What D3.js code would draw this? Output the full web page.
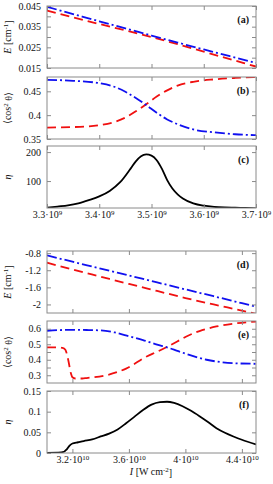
<!DOCTYPE html>
<html>
<head>
<meta charset="utf-8">
<script src="https://cdn.jsdelivr.net/npm/d3@7"></script>
<style>
  body { margin: 0; background: #fff; }
  svg text { font-family: "Liberation Serif", "DejaVu Serif", serif; fill: #111; }
</style>
</head>
<body>
<svg width="273" height="484" font-family="Liberation Serif, serif"></svg>
<script>
// upper block, intensity in units of 1e9 W cm^-2
var xA = [3.30, 3.35, 3.40, 3.45, 3.50, 3.55, 3.60, 3.65, 3.70];
var eBlueA = [0.0446, 0.0411, 0.0376, 0.0342, 0.0307, 0.0273, 0.0240, 0.0207, 0.0175];
var eRedA = [0.0428, 0.0395, 0.0363, 0.0332, 0.0300, 0.0265, 0.0229, 0.0193, 0.0157];

var xB = [3.30, 3.35, 3.40, 3.43, 3.45, 3.47, 3.49, 3.51, 3.53, 3.55, 3.58, 3.62, 3.66, 3.70];
var cosBlueB = [0.474, 0.472, 0.467, 0.459, 0.449, 0.436, 0.421, 0.405, 0.391, 0.381, 0.370, 0.364, 0.360, 0.358];
var cosRedB = [0.374, 0.375, 0.379, 0.386, 0.395, 0.408, 0.423, 0.439, 0.452, 0.462, 0.470, 0.475, 0.478, 0.480];

var xC = [3.30, 3.32, 3.34, 3.36, 3.38, 3.40, 3.42, 3.44, 3.46, 3.47, 3.48, 3.49, 3.50, 3.51, 3.52, 3.53, 3.54, 3.55, 3.56, 3.58, 3.60, 3.62, 3.64, 3.66, 3.68, 3.70];
var etaC = [8, 12, 16, 23, 34, 47, 66, 96, 143, 168, 186, 192, 188, 172, 142, 103, 74, 54, 40, 23, 15, 11, 9, 8, 7, 6];

// lower block, intensity in units of 1e10 W cm^-2
var xD = [3.02, 3.2, 3.4, 3.6, 3.8, 4.0, 4.2, 4.4, 4.5];
var eBlueD = [-0.854, -1.0, -1.161, -1.323, -1.485, -1.647, -1.808, -1.970, -2.051];
var eRedD = [-1.024, -1.18, -1.35, -1.52, -1.685, -1.85, -2.0, -2.145, -2.22];

var xEBlue = [3.02, 3.1, 3.2, 3.3, 3.4, 3.5, 3.6, 3.7, 3.8, 3.87, 3.95, 4.05, 4.15, 4.25, 4.35, 4.5];
var cosBlueE = [0.587, 0.591, 0.593, 0.592, 0.589, 0.576, 0.552, 0.527, 0.498, 0.480, 0.455, 0.425, 0.400, 0.385, 0.377, 0.374];
var xERed = [3.02, 3.10, 3.13, 3.15, 3.17, 3.19, 3.20, 3.22, 3.27, 3.30, 3.44, 3.58, 3.73, 3.80, 3.876, 3.95, 4.0, 4.1, 4.22, 4.34, 4.5];
var cosRedE = [0.480, 0.480, 0.477, 0.465, 0.400, 0.310, 0.287, 0.279, 0.279, 0.282, 0.300, 0.343, 0.423, 0.452, 0.486, 0.522, 0.547, 0.585, 0.615, 0.633, 0.646];

var xF = [3.02, 3.10, 3.14, 3.16, 3.18, 3.20, 3.24, 3.28, 3.34, 3.40, 3.46, 3.52, 3.58, 3.64, 3.70, 3.76, 3.82, 3.87, 3.92, 3.98, 4.04, 4.10, 4.16, 4.22, 4.28, 4.34, 4.40, 4.5];
var etaF = [0.0005, 0.001, 0.003, 0.009, 0.018, 0.023, 0.026, 0.029, 0.033, 0.040, 0.047, 0.057, 0.072, 0.088, 0.104, 0.117, 0.123, 0.124, 0.121, 0.113, 0.102, 0.089, 0.075, 0.060, 0.049, 0.040, 0.032, 0.021];

// ticks
var xTicksTop = [3.3, 3.4, 3.5, 3.6, 3.7];
var xTickLabelsTop = ['3.3', '3.4', '3.5', '3.6', '3.7'];
var xTicksBot = [3.2, 3.6, 4.0, 4.4];
var xTickLabelsBot = ['3.2', '3.6', '4', '4.4'];

var yTicksA = [0.015, 0.02, 0.025, 0.03, 0.035, 0.04, 0.045];
var yLabelsA = ['0.015', '', '0.025', '', '0.035', '', '0.045'];
var yTicksB = [0.35, 0.4, 0.45];
var yLabelsB = ['0.35', '0.4', '0.45'];
var yTicksC = [100, 200];
var yLabelsC = ['100', '200'];
var yTicksD = [-2, -1.6, -1.2, -0.8];
var yLabelsD = ['-2', '-1.6', '-1.2', '-0.8'];
var yTicksE = [0.3, 0.35, 0.4, 0.45, 0.5, 0.55, 0.6];
var yLabelsE = ['0.3', '', '0.4', '', '0.5', '', '0.6'];
var yTicksF = [0, 0.05, 0.1, 0.15];
var yLabelsF = ['0', '0.05', '0.1', '0.15'];

var svg = d3.select('svg');
var left = 47, right = 256, ph = 62;
var frameColor = '#8a8a8a';
var serif = '"Liberation Serif", "DejaVu Serif", serif';

var xTop = d3.scaleLinear().domain([3.3, 3.7]).range([left, right]);
var xBot = d3.scaleLinear().domain([3.02, 4.5]).range([left, right]);

var styles = {
  red: { stroke: '#f01010', dash: '9,5' },
  blue: { stroke: '#1010f0', dash: '10,3,2,3' },
  black: { stroke: '#000', dash: null }
};

var clipId = 0;

function panel(o) {
  var y = d3.scaleLinear().domain(o.yDom).range([o.top + ph, o.top]);
  var g = svg.append('g');
  var id = 'clip' + (clipId++);
  svg.append('clipPath').attr('id', id)
    .append('rect').attr('x', left).attr('y', o.top).attr('width', right - left).attr('height', ph);

  // series
  o.series.forEach(function(s) {
    var pts = s.x.map(function(v, i) { return [v, s.y[i]]; });
    var line = d3.line()
      .x(function(d) { return o.x(d[0]); })
      .y(function(d) { return y(d[1]); })
      .curve(d3.curveMonotoneX);
    g.append('path')
      .attr('d', line(pts))
      .attr('clip-path', 'url(#' + id + ')')
      .attr('fill', 'none')
      .attr('stroke', styles[s.style].stroke)
      .attr('stroke-width', 1.8)
      .attr('stroke-dasharray', styles[s.style].dash);
  });

  // frame
  g.append('rect')
    .attr('x', left).attr('y', o.top).attr('width', right - left).attr('height', ph)
    .attr('fill', 'none').attr('stroke', frameColor).attr('stroke-width', 1);

  // y axes, ticks pointing inward
  var yl = g.append('g').attr('transform', 'translate(' + left + ',0)')
    .call(d3.axisLeft(y).tickValues(o.yTicks).tickSize(-4).tickPadding(6)
      .tickFormat(function(d, i) { return o.yLabels[i]; }));
  var yr = g.append('g').attr('transform', 'translate(' + right + ',0)')
    .call(d3.axisRight(y).tickValues(o.yTicks).tickSize(-4).tickFormat(''));
  [yl, yr].forEach(function(a) {
    a.attr('font-family', serif);
    a.select('.domain').remove();
    a.selectAll('line').attr('stroke', frameColor);
  });
  yl.selectAll('text').attr('font-size', 10).attr('fill', '#111');

  // x ticks top and bottom
  var xb = g.append('g').attr('transform', 'translate(0,' + (o.top + ph) + ')')
    .call(d3.axisBottom(o.x).tickValues(o.xTicks).tickSize(-4).tickPadding(3).tickFormat(''));
  var xt = g.append('g').attr('transform', 'translate(0,' + o.top + ')')
    .call(d3.axisTop(o.x).tickValues(o.xTicks).tickSize(-4).tickFormat(''));
  [xb, xt].forEach(function(a) {
    a.attr('font-family', serif);
    a.select('.domain').remove();
    a.selectAll('line').attr('stroke', frameColor);
  });

  if (o.xLabels) {
    xb.selectAll('.tick text').each(function(d, i) {
      var t = d3.select(this).attr('font-size', 10).attr('fill', '#111');
      t.append('tspan').text(o.xLabels[i] + '\u00b710');
      t.append('tspan').attr('dy', '-0.45em').attr('font-size', 7).text(o.exp);
    });
  }

  // panel tag
  g.append('text')
    .attr('x', 249).attr('y', o.top + 17)
    .attr('text-anchor', 'end')
    .attr('font-size', 10).attr('font-weight', 'bold')
    .text(o.tag);

  // y title, rotated
  var yt = g.append('text')
    .attr('transform', 'translate(11,' + (o.top + ph / 2) + ') rotate(-90)')
    .attr('text-anchor', 'middle')
    .attr('font-size', 10);
  o.yTitle(yt);
}

function titleE(t) {
  t.append('tspan').attr('font-style', 'italic').text('E');
  t.append('tspan').text(' [cm');
  t.append('tspan').attr('dy', '-0.45em').attr('font-size', 7).text('-1');
  t.append('tspan').attr('dy', '0.45em').text(']');
}
function titleCos(t) {
  t.append('tspan').text('\u27e8cos');
  t.append('tspan').attr('dy', '-0.45em').attr('font-size', 7).text('2');
  t.append('tspan').attr('dy', '0.45em').text(' \u03b8\u27e9');
}
function titleEta(t) {
  t.append('tspan').attr('font-style', 'italic').text('\u03b7');
}

panel({ top: 6, x: xTop, xTicks: xTicksTop, yDom: [0.015, 0.045], yTicks: yTicksA, yLabels: yLabelsA,
  tag: '(a)', yTitle: titleE,
  series: [{ x: xA, y: eRedA, style: 'red' }, { x: xA, y: eBlueA, style: 'blue' }] });
panel({ top: 77, x: xTop, xTicks: xTicksTop, yDom: [0.35, 0.48], yTicks: yTicksB, yLabels: yLabelsB,
  tag: '(b)', yTitle: titleCos,
  series: [{ x: xB, y: cosRedB, style: 'red' }, { x: xB, y: cosBlueB, style: 'blue' }] });
panel({ top: 146, x: xTop, xTicks: xTicksTop, yDom: [7, 221], yTicks: yTicksC, yLabels: yLabelsC,
  tag: '(c)', yTitle: titleEta, xLabels: xTickLabelsTop, exp: '9',
  series: [{ x: xC, y: etaC, style: 'black' }] });

panel({ top: 251, x: xBot, xTicks: xTicksBot, yDom: [-2.2, -0.75], yTicks: yTicksD, yLabels: yLabelsD,
  tag: '(d)', yTitle: titleE,
  series: [{ x: xD, y: eRedD, style: 'red' }, { x: xD, y: eBlueD, style: 'blue' }] });
panel({ top: 321, x: xBot, xTicks: xTicksBot, yDom: [0.25, 0.65], yTicks: yTicksE, yLabels: yLabelsE,
  tag: '(e)', yTitle: titleCos,
  series: [{ x: xERed, y: cosRedE, style: 'red' }, { x: xEBlue, y: cosBlueE, style: 'blue' }] });
panel({ top: 391, x: xBot, xTicks: xTicksBot, yDom: [0, 0.15], yTicks: yTicksF, yLabels: yLabelsF,
  tag: '(f)', yTitle: titleEta, xLabels: xTickLabelsBot, exp: '10',
  series: [{ x: xF, y: etaF, style: 'black' }] });

// x axis title
var xt = svg.append('text')
  .attr('x', 151).attr('y', 475)
  .attr('text-anchor', 'middle')
  .attr('font-size', 10);
xt.append('tspan').attr('font-style', 'italic').text('I');
xt.append('tspan').text(' [W cm');
xt.append('tspan').attr('dy', '-0.45em').attr('font-size', 7).text('-2');
xt.append('tspan').attr('dy', '0.45em').text(']');
</script>
</body>
</html>
